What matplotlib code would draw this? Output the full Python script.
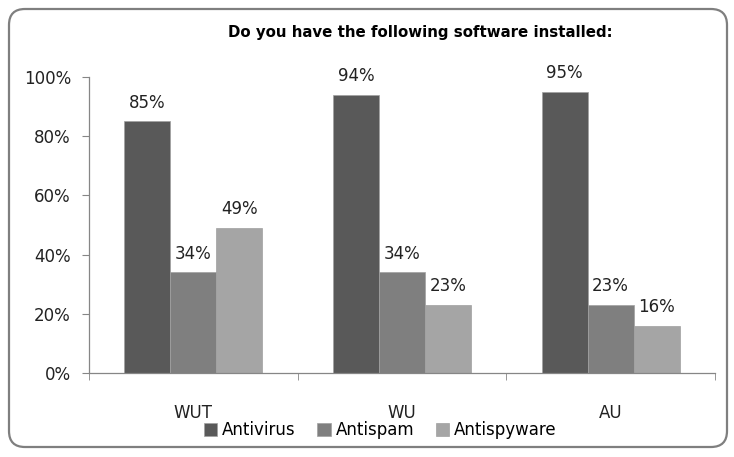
import matplotlib
matplotlib.use('Agg')
import matplotlib.pyplot as plt
from matplotlib.patches import FancyBboxPatch, Patch
import numpy as np

groups = ['WUT', 'WU', 'AU']
series = ['Antivirus', 'Antispam', 'Antispyware']
antivirus = [85, 94, 95]
antispam = [34, 34, 23]
antispyware = [49, 23, 16]
colors = ['#595959', '#7f7f7f', '#a5a5a5']
title = 'Do you have the following software installed:'

fig = plt.figure(figsize=(7.34, 4.57), dpi=100)
ax = fig.add_axes([89 / 734, 1 - 373 / 457, (715 - 89) / 734, (373 - 77) / 457])

# rounded frame around the whole chart
frame = FancyBboxPatch((0.09, 0.10), 7.18, 4.38, boxstyle='round,pad=0,rounding_size=0.16',
                       transform=fig.dpi_scale_trans, fill=False, edgecolor='#7f7f7f',
                       linewidth=1.6, zorder=0)
fig.patches.append(frame)

x = np.arange(len(groups))
w = 0.22
for i, (vals, c) in enumerate(zip([antivirus, antispam, antispyware], colors)):
    bars = ax.bar(x + (i - 1) * w, vals, w, color=c, edgecolor='#a0a0a0', linewidth=0.5)
    for b, v in zip(bars, vals):
        ax.annotate('%d%%' % v, (b.get_x() + b.get_width() / 2, b.get_height()),
                    xytext=(0, 7), textcoords='offset points', ha='center', va='bottom',
                    fontsize=12, color='#222222')

ax.set_xlim(-0.5, 2.5)
ax.set_ylim(0, 100)
ax.set_yticks(range(0, 101, 20))
ax.set_yticklabels(['%d%%' % t for t in range(0, 101, 20)])
ax.set_xticks(x)
ax.set_xticklabels(groups)
ax.set_xticks([-0.5, 0.5, 1.5, 2.5], minor=True)
ax.tick_params(axis='x', which='major', length=0, pad=22, labelsize=12, labelcolor='#222222')
ax.tick_params(axis='x', which='minor', length=5, color='#868686', direction='out')
ax.tick_params(axis='y', length=5, color='#868686', pad=8, labelsize=12, labelcolor='#222222')
for s in ['top', 'right']:
    ax.spines[s].set_visible(False)
for s in ['left', 'bottom']:
    ax.spines[s].set_color('#868686')
    ax.spines[s].set_linewidth(0.9)

fig.text(0.572, 1 - 33 / 457, title, ha='center', va='center', fontsize=10.8, fontweight='bold')

handles = [Patch(facecolor=c, edgecolor='#a0a0a0', linewidth=0.5) for c in colors]
fig.legend(handles, series, loc='center', bbox_to_anchor=(0.518, 1 - 430 / 457), ncol=3,
           frameon=False, fontsize=12, handlelength=0.8, handleheight=0.8,
           handletextpad=0.3, columnspacing=1.3)

fig.savefig('out.png', dpi=100)
